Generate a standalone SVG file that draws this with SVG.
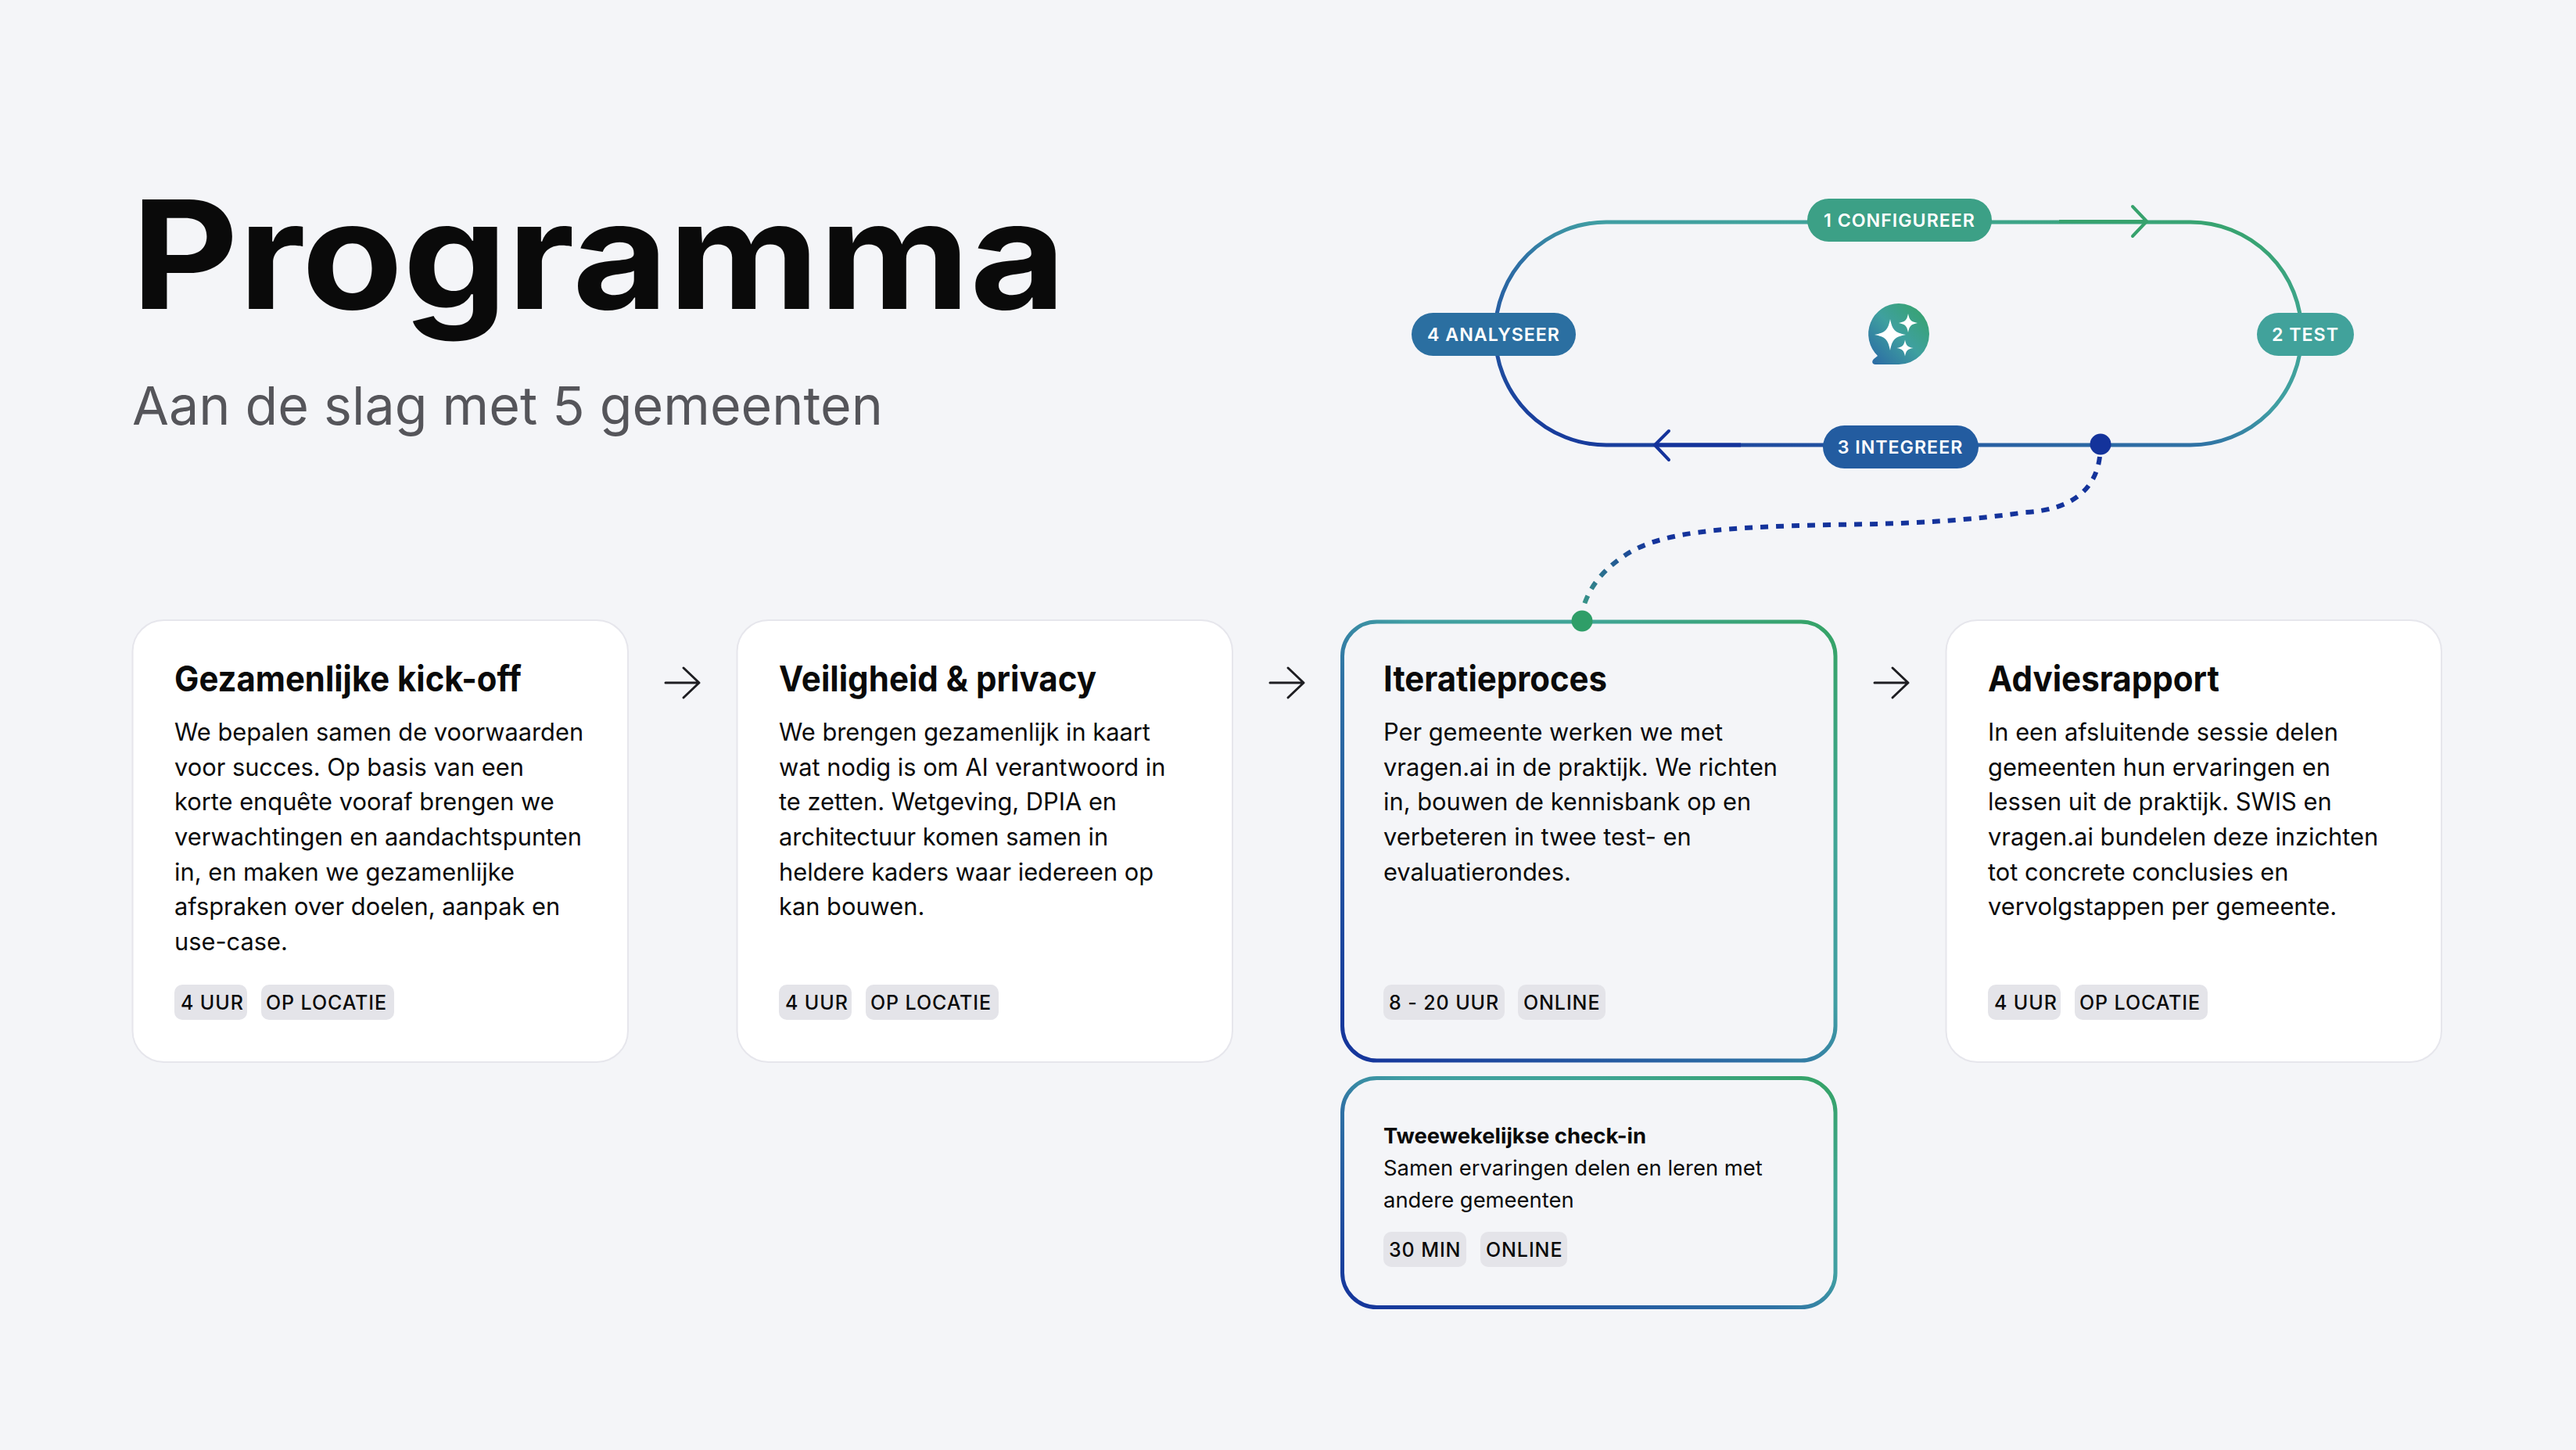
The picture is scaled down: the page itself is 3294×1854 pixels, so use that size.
<svg xmlns="http://www.w3.org/2000/svg" xmlns:xlink="http://www.w3.org/1999/xlink" width="3294" height="1854" viewBox="0 0 3294 1854">
<style>
text{font-family:Inter,"Liberation Sans",sans-serif;fill:#0a0a0a}
.h{font-weight:700;font-size:45px}
.b{font-size:30.8px}
.s{font-size:27.4px}
.tag{fill:#e4e4e9}
.tt{font-size:25px;font-weight:500;letter-spacing:.9px}
.card{fill:#fff;stroke:#e6e6ec;stroke-width:2}
.gcard{fill:#f4f5f8;stroke:url(#g);stroke-width:5}
.pl{font-size:23.2px;font-weight:600;fill:#fff;text-anchor:middle;letter-spacing:1px}
.ar{fill:none;stroke:#1e1e22;stroke-width:3;stroke-linecap:round;stroke-linejoin:round}
</style>
<defs>
<linearGradient id="g" x1="0" y1="1" x2="1" y2="0">
<stop offset="0" stop-color="#14339b"/><stop offset=".435" stop-color="#2f72a5"/><stop offset=".565" stop-color="#409ea3"/><stop offset=".75" stop-color="#40a596"/><stop offset="1" stop-color="#35a365"/>
</linearGradient>
<linearGradient id="g2" x1="0" y1="1" x2="1" y2="0">
<stop offset="0" stop-color="#2966a5"/><stop offset=".5" stop-color="#3fa09f"/><stop offset="1" stop-color="#35a365"/>
</linearGradient>
<linearGradient id="gd" gradientUnits="userSpaceOnUse" x1="2023" y1="790" x2="2110" y2="690">
<stop offset="0" stop-color="#3ca086"/><stop offset="1" stop-color="#14339b"/>
</linearGradient>
<path id="star" d="M0 -1C.14 -.3 .3 -.14 1 0C.3 .14 .14 .3 0 1C-.14 .3 -.3 .14 -1 0C-.3 -.14 -.14 -.3 0 -1Z" fill="#fff"/>
</defs>
<rect width="3294" height="1854" fill="#f4f5f8"/>
<g id="header">
<text x="168" y="395" font-size="192" font-weight="700" textLength="1195" lengthAdjust="spacingAndGlyphs">Programma</text>
<text x="169" y="543" font-size="68" style="fill:#55555a" textLength="960" lengthAdjust="spacingAndGlyphs">Aan de slag met 5 gemeenten</text>
</g>
<g id="connectors">
<rect x="1912" y="284" width="1031" height="285" rx="142" ry="142" fill="none" stroke="url(#g)" stroke-width="5"/>
<path d="M2633 283H2745" fill="none" stroke="#37a26d" stroke-width="4"/>
<path d="M2727 264L2745 283L2727 302" fill="none" stroke="#37a26d" stroke-width="4" stroke-linecap="round" stroke-linejoin="round"/>
<path d="M2226 569H2117" fill="none" stroke="#14339b" stroke-width="5"/>
<path d="M2134 551L2116 569L2134 588" fill="none" stroke="#14339b" stroke-width="4" stroke-linecap="round" stroke-linejoin="round"/>
<path d="M2685 584C2680 625 2650 652 2590 655C2500 668 2420 670 2340 671C2200 674 2120 680 2075 712C2040 736 2030 760 2024 778" fill="none" stroke="url(#gd)" stroke-width="6" stroke-dasharray="10 10"/>
<circle cx="2686" cy="568" r="13.5" fill="#14339b"/>
<g id="arrow-1"><path class="ar" d="M851 873H894M874 854L894 873L874 892"/></g>
<g id="arrow-2"><path class="ar" d="M1624 873H1667M1647 854L1667 873L1647 892"/></g>
<g id="arrow-3"><path class="ar" d="M2397 873H2440M2420 854L2440 873L2420 892"/></g>
</g>
<g id="pill-1"><rect x="2311" y="254" width="236" height="55" rx="27.5" fill="#3ca086"/><text class="pl" x="2429" y="290">1 CONFIGUREER</text></g>
<g id="pill-2"><rect x="2886" y="400" width="124" height="55" rx="27.5" fill="#41a29b"/><text class="pl" x="2948" y="436">2 TEST</text></g>
<g id="pill-3"><rect x="2331" y="544" width="199" height="55" rx="27.5" fill="#235ca0"/><text class="pl" x="2430" y="580">3 INTEGREER</text></g>
<g id="pill-4"><rect x="1805" y="400" width="210" height="55" rx="27.5" fill="#2b6fa1"/><text class="pl" x="1910" y="436">4 ANALYSEER</text></g>
<g id="logo">
<path d="M2428 388A39 39 0 1 1 2428 466H2398C2394 466 2393 462 2396 459L2401 455A39 39 0 0 1 2428 388Z" fill="url(#g2)"/>
<use href="#star" transform="translate(2417 428) scale(20)"/>
<use href="#star" transform="translate(2440 413) scale(12)"/>
<use href="#star" transform="translate(2436 445) scale(10.5)"/>
</g>
<g id="card-1">
<rect class="card" x="169.5" y="793" width="633.5" height="565" rx="40"/>
<text class="h" x="223" y="884" textLength="444" lengthAdjust="spacingAndGlyphs">Gezamenlijke kick-off</text>
<text class="b" x="223" y="947">We bepalen samen de voorwaarden</text>
<text class="b" x="223" y="992">voor succes. Op basis van een</text>
<text class="b" x="223" y="1036">korte enquête vooraf brengen we</text>
<text class="b" x="223" y="1081">verwachtingen en aandachtspunten</text>
<text class="b" x="223" y="1126">in, en maken we gezamenlijke</text>
<text class="b" x="223" y="1170">afspraken over doelen, aanpak en</text>
<text class="b" x="223" y="1215">use-case.</text>
<rect class="tag" x="223" y="1259" width="93" height="45" rx="10"/><text class="tt" x="231" y="1291">4 UUR</text>
<rect class="tag" x="334" y="1259" width="170" height="45" rx="10"/><text class="tt" x="340" y="1291">OP LOCATIE</text>
</g>
<g id="card-2">
<rect class="card" x="942.5" y="793" width="633.5" height="565" rx="40"/>
<text class="h" x="996" y="884" textLength="406" lengthAdjust="spacingAndGlyphs">Veiligheid &amp; privacy</text>
<text class="b" x="996" y="947">We brengen gezamenlijk in kaart</text>
<text class="b" x="996" y="992">wat nodig is om AI verantwoord in</text>
<text class="b" x="996" y="1036">te zetten. Wetgeving, DPIA en</text>
<text class="b" x="996" y="1081">architectuur komen samen in</text>
<text class="b" x="996" y="1126">heldere kaders waar iedereen op</text>
<text class="b" x="996" y="1170">kan bouwen.</text>
<rect class="tag" x="996" y="1259" width="93" height="45" rx="10"/><text class="tt" x="1004" y="1291">4 UUR</text>
<rect class="tag" x="1107" y="1259" width="170" height="45" rx="10"/><text class="tt" x="1113" y="1291">OP LOCATIE</text>
</g>
<g id="card-3">
<rect class="gcard" x="1716.5" y="795" width="630.5" height="561" rx="44"/>
<circle cx="2023" cy="794" r="13.5" fill="#2f9e68"/>
<text class="h" x="1769" y="884" textLength="286" lengthAdjust="spacingAndGlyphs">Iteratieproces</text>
<text class="b" x="1769" y="947">Per gemeente werken we met</text>
<text class="b" x="1769" y="992">vragen.ai in de praktijk. We richten</text>
<text class="b" x="1769" y="1036">in, bouwen de kennisbank op en</text>
<text class="b" x="1769" y="1081">verbeteren in twee test- en</text>
<text class="b" x="1769" y="1126">evaluatierondes.</text>
<rect class="tag" x="1769" y="1259" width="155" height="45" rx="10"/><text class="tt" x="1776" y="1291">8 - 20 UUR</text>
<rect class="tag" x="1941" y="1259" width="112" height="45" rx="10"/><text class="tt" x="1948" y="1291">ONLINE</text>
</g>
<g id="card-3b">
<rect class="gcard" x="1716.5" y="1378.5" width="630.5" height="293" rx="44"/>
<text class="s" x="1769" y="1462" font-weight="700">Tweewekelijkse check-in</text>
<text class="s" x="1769" y="1503">Samen ervaringen delen en leren met</text>
<text class="s" x="1769" y="1544">andere gemeenten</text>
<rect class="tag" x="1769" y="1575" width="106" height="45" rx="10"/><text class="tt" x="1776" y="1607">30 MIN</text>
<rect class="tag" x="1893" y="1575" width="111" height="45" rx="10"/><text class="tt" x="1900" y="1607">ONLINE</text>
</g>
<g id="card-4">
<rect class="card" x="2488.5" y="793" width="633.5" height="565" rx="40"/>
<text class="h" x="2542" y="884" textLength="296" lengthAdjust="spacingAndGlyphs">Adviesrapport</text>
<text class="b" x="2542" y="947">In een afsluitende sessie delen</text>
<text class="b" x="2542" y="992">gemeenten hun ervaringen en</text>
<text class="b" x="2542" y="1036">lessen uit de praktijk. SWIS en</text>
<text class="b" x="2542" y="1081">vragen.ai bundelen deze inzichten</text>
<text class="b" x="2542" y="1126">tot concrete conclusies en</text>
<text class="b" x="2542" y="1170">vervolgstappen per gemeente.</text>
<rect class="tag" x="2542" y="1259" width="93" height="45" rx="10"/><text class="tt" x="2550" y="1291">4 UUR</text>
<rect class="tag" x="2653" y="1259" width="170" height="45" rx="10"/><text class="tt" x="2659" y="1291">OP LOCATIE</text>
</g>
</svg>
